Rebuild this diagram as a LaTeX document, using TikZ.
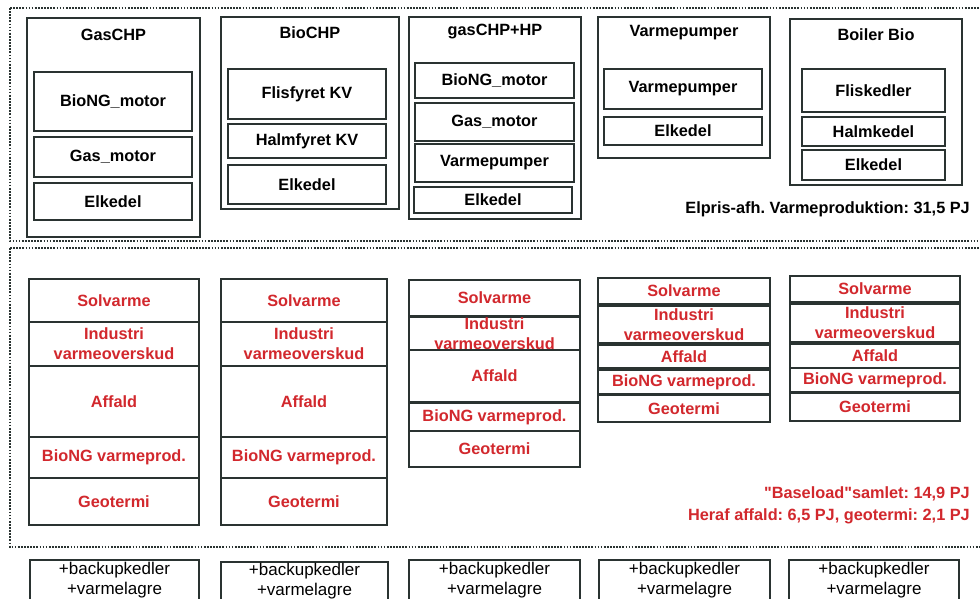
\documentclass[tikz,border=0pt]{standalone}
\usepackage{fontspec}
\setmainfont{Liberation Sans}
\definecolor{linec}{HTML}{2A3331}
\definecolor{redt}{HTML}{D2282D}
\frenchspacing
\tikzset{
  bx/.style={draw=linec, line width=2.2pt, fill=white, inner sep=0pt, align=center,
    font=\fontsize{16.3}{20}\selectfont\bfseries, text=black},
  rb/.style={bx, text=redt},
  lb/.style={bx, font=\fontsize{17}{20}\selectfont},
  ttl/.style={inner sep=0pt, font=\fontsize{16.3}{18}\selectfont\bfseries},
  note/.style={inner sep=0pt, anchor=east, font=\fontsize{16.3}{18}\selectfont\bfseries},
  frame/.style={draw=linec, line width=1.7pt, dash pattern=on 1.7pt off 1.4pt}
}
\begin{document}
\begin{tikzpicture}[x=1pt,y=-1pt]
\useasboundingbox (0,0) rectangle (980,598);
\clip (0,0) rectangle (980,598);
\fill[white] (0,0) rectangle (980,598);
% frames
\draw[frame] (10,8) -- (1000,8);
\draw[frame] (10,8) -- (10,241) -- (1000,241);
\draw[frame] (10,248) -- (1000,248);
\draw[frame] (10,248) -- (10,547) -- (1000,547);
% ---- top row ----
% GasCHP
\node[bx, minimum width=173pt, minimum height=219pt] (g) at (113.5,127.5) {};
\node[ttl] (gt) at (113.5,35) {GasCHP};
\node[bx, minimum width=158pt, minimum height=59pt] (g1) at (113,101.5) {BioNG\_motor};
\node[bx, minimum width=158pt, minimum height=40pt] (g2) at (113,157) {Gas\_motor};
\node[bx, minimum width=158pt, minimum height=37pt] (g3) at (113,201.5) {Elkedel};
% BioCHP
\node[bx, minimum width=178pt, minimum height=192pt] (b) at (310,113) {};
\node[ttl] (bt) at (310,33) {BioCHP};
\node[bx, minimum width=158pt, minimum height=50pt] (b1) at (307,94) {Flisfyret KV};
\node[bx, minimum width=158pt, minimum height=34pt] (b2) at (307,141) {Halmfyret KV};
\node[bx, minimum width=158pt, minimum height=39pt] (b3) at (307,184.5) {Elkedel};
% gasCHP+HP
\node[bx, minimum width=172pt, minimum height=202pt] (h) at (495,118) {};
\node[ttl] (ht) at (495,32) {gasCHP+HP};
\node[bx, minimum width=159pt, minimum height=35pt] (h1) at (494.5,80.5) {BioNG\_motor};
\node[bx, minimum width=159pt, minimum height=38pt] (h2) at (494.5,122) {Gas\_motor};
\node[bx, minimum width=159pt, minimum height=38pt] (h3) at (494.5,163) {Varmepumper};
\node[bx, minimum width=158pt, minimum height=26pt] (h4) at (493,200) {Elkedel};
% Varmepumper
\node[bx, minimum width=172pt, minimum height=141pt] (v) at (684,87.5) {};
\node[ttl] (vt) at (684,33) {Varmepumper};
\node[bx, minimum width=158pt, minimum height=40pt] (v1) at (683,89) {Varmepumper};
\node[bx, minimum width=158pt, minimum height=28pt] (v2) at (683,131) {Elkedel};
% Boiler Bio
\node[bx, minimum width=172pt, minimum height=166pt] (o) at (876,102) {};
\node[ttl] (ot) at (876,35) {Boiler Bio};
\node[bx, minimum width=143pt, minimum height=43pt] (o1) at (873.5,90.5) {Fliskedler};
\node[bx, minimum width=143pt, minimum height=29pt] (o2) at (873.5,131.5) {Halmkedel};
\node[bx, minimum width=143pt, minimum height=30pt] (o3) at (873.5,165) {Elkedel};
\node[note] (n1) at (970,209) {Elpris-afh. Varmeproduktion: 31,5 PJ};
% ---- middle row ----
% col 1
\node[rb, minimum width=170pt, minimum height=43pt] (a1) at (114,300.5) {Solvarme};
\node[rb, minimum width=170pt, minimum height=44pt] (a2) at (114,344) {Industri\\varmeoverskud};
\node[rb, minimum width=170pt, minimum height=71pt] (a3) at (114,401.5) {Affald};
\node[rb, minimum width=170pt, minimum height=41pt] (a4) at (114,457.5) {BioNG varmeprod.};
\node[rb, minimum width=170pt, minimum height=47pt] (a5) at (114,501.5) {Geotermi};
% col 2
\node[rb, minimum width=166pt, minimum height=43pt] (c1) at (304,300.5) {Solvarme};
\node[rb, minimum width=166pt, minimum height=44pt] (c2) at (304,344) {Industri\\varmeoverskud};
\node[rb, minimum width=166pt, minimum height=71pt] (c3) at (304,401.5) {Affald};
\node[rb, minimum width=166pt, minimum height=41pt] (c4) at (304,457.5) {BioNG varmeprod.};
\node[rb, minimum width=166pt, minimum height=47pt] (c5) at (304,501.5) {Geotermi};
% col 3
\node[rb, minimum width=171pt, minimum height=36pt] (d1) at (494.5,298) {Solvarme};
\node[rb, minimum width=171pt, minimum height=33pt] (d2) at (494.5,333.5) {Industri\\varmeoverskud};
\node[rb, minimum width=171pt, minimum height=52pt] (d3) at (494.5,376) {Affald};
\node[rb, minimum width=171pt, minimum height=28pt] (d4) at (494.5,417) {BioNG varmeprod.};
\node[rb, minimum width=171pt, minimum height=36pt] (d5) at (494.5,449) {Geotermi};
% col 4
\node[rb, minimum width=172pt, minimum height=26pt] (e1) at (684,291) {Solvarme};
\node[rb, minimum width=172pt, minimum height=37pt] (e2) at (684,324.5) {Industri\\varmeoverskud};
\node[rb, minimum width=172pt, minimum height=23pt] (e3) at (684,356.5) {Affald};
\node[rb, minimum width=172pt, minimum height=24pt] (e4) at (684,382) {BioNG varmeprod.};
\node[rb, minimum width=172pt, minimum height=27pt] (e5) at (684,408.5) {Geotermi};
% col 5
\node[rb, minimum width=170pt, minimum height=26pt] (f1) at (875,289) {Solvarme};
\node[rb, minimum width=170pt, minimum height=38pt] (f2) at (875,323) {Industri\\varmeoverskud};
\node[rb, minimum width=170pt, minimum height=24pt] (f3) at (875,356) {Affald};
\node[rb, minimum width=170pt, minimum height=24pt] (f4) at (875,380) {BioNG varmeprod.};
\node[rb, minimum width=170pt, minimum height=28pt] (f5) at (875,407) {Geotermi};
\node[note, text=redt] (n2) at (970,494) {\textquotedbl Baseload\textquotedbl samlet: 14,9 PJ};
\node[note, text=redt] (n3) at (970,516) {Heraf affald: 6,5 PJ, geotermi: 2,1 PJ};
% ---- bottom row ----
\node[lb, minimum width=169pt, minimum height=40pt] (k1) at (114.5,580) {+backupkedler\\+varmelagre};
\node[lb, minimum width=167pt, minimum height=38pt] (k2) at (304.5,581) {+backupkedler\\+varmelagre};
\node[lb, minimum width=171pt, minimum height=40pt] (k3) at (494.5,580) {+backupkedler\\+varmelagre};
\node[lb, minimum width=171pt, minimum height=40pt] (k4) at (684.5,580) {+backupkedler\\+varmelagre};
\node[lb, minimum width=170pt, minimum height=40pt] (k5) at (874,580) {+backupkedler\\+varmelagre};
\end{tikzpicture}
\end{document}
